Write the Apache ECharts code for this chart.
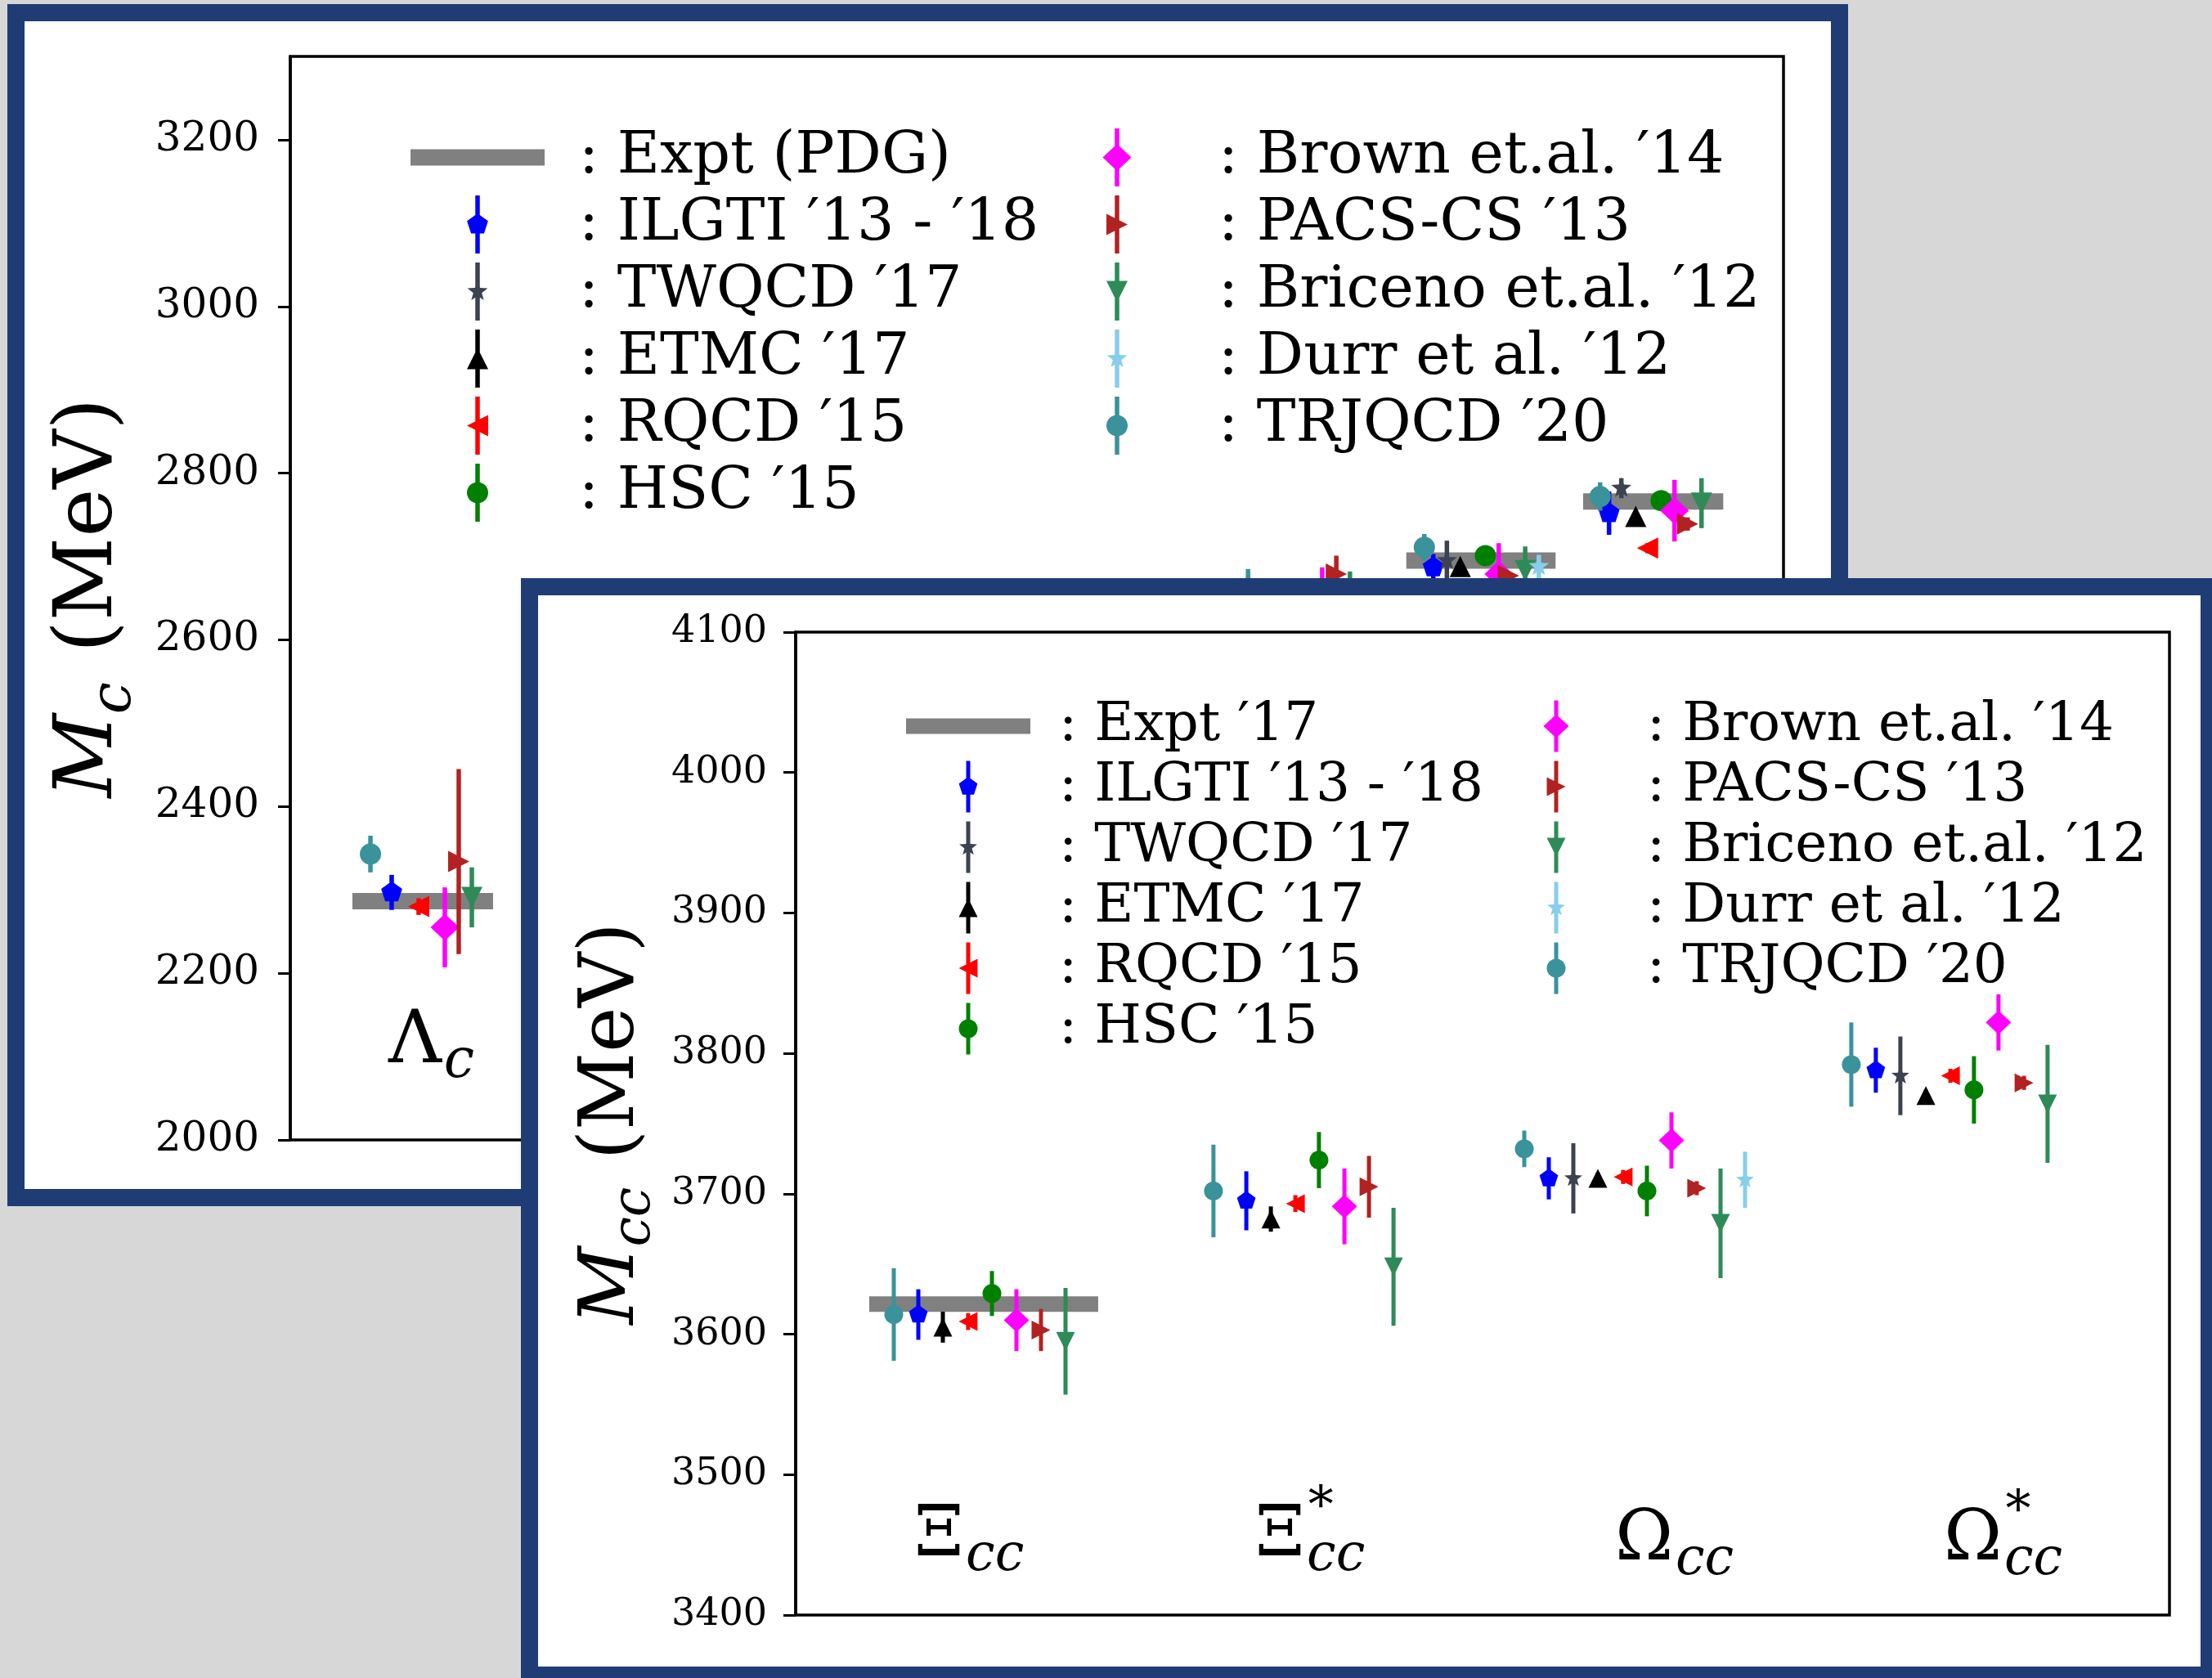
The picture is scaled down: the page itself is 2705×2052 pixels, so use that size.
<!DOCTYPE html>
<html>
<head>
<meta charset="utf-8">
<script src="https://cdn.jsdelivr.net/npm/echarts@6/dist/echarts.min.js"></script>
<style>
  html, body { margin: 0; padding: 0; width: 2705px; height: 2052px; overflow: hidden; background: #d7d7d7; }
  .panel { position: absolute; box-sizing: border-box; border: 21px solid #1f3d74; background: #fff; }
  #back { left: 9px; top: 5px; width: 2251px; height: 1470px; }
  #front { left: 637px; top: 707px; width: 2075px; height: 1352px; }
  .chart { width: 100%; height: 100%; }
</style>
</head>
<body>
<div id="back" class="panel"><div id="backChart" class="chart"></div></div>
<div id="front" class="panel"><div id="frontChart" class="chart"></div></div>
<script>
// ---------------- singly charmed baryons (upper panel) ----------------
// experimental bands: [x start, x end, mass in MeV]
const backExpt = [[2.37, 7.74, 2286.5], [42.6, 48.3, 2695.2], [49.35, 54.7, 2765.9]];
// lattice points: [x slot, mass (MeV), error (MeV)]
const backIlgti   = [[3.87, 2297, 21], [43.63, 2687, 16], [50.34, 2752, 26]];
const backTwqcd   = [[44.15, 2695, 24], [50.81, 2782, 12]];
const backEtmc    = [[44.66, 2688, 4], [51.36, 2748, 4]];
const backRqcd    = [[4.9, 2280, 10], [51.81, 2710, 6]];
const backHsc     = [[45.62, 2701, 8], [52.33, 2767, 8]];
const backBrown   = [[5.9, 2255, 48], [39.39, 2650, 37], [46.13, 2679, 37], [52.84, 2755, 37]];
const backPacs    = [[6.43, 2334, 111], [39.93, 2679, 22], [46.5, 2677, 5], [53.34, 2739, 8]];
const backBriceno = [[6.93, 2291, 36], [40.45, 2652, 30], [47.14, 2683, 29], [53.87, 2764, 30]];
const backDurr    = [[47.66, 2688, 14]];
const backTrjqcd  = [[3.06, 2343, 22], [36.56, 2662, 23], [43.29, 2711, 16], [50.0, 2772, 17]];
const backYTicks  = { min: 2000, max: 3300, step: 200 };

// ---------------- doubly charmed baryons (lower panel) ----------------
const frontExpt = [[3.0, 12.33, 3621.4]];
const frontIlgti   = [[5, 3614, 18], [18.37, 3695, 21], [30.7, 3711, 15], [44.03, 3788, 16]];
const frontTwqcd   = [[31.7, 3711, 25], [45.03, 3784, 28]];
const frontEtmc    = [[6, 3605, 11], [19.37, 3682, 9], [32.7, 3711, 4], [46.07, 3770, 4]];
const frontRqcd    = [[7.03, 3609, 6], [20.37, 3693, 6], [33.73, 3712, 5], [47.07, 3784, 5]];
const frontHsc     = [[8, 3629, 16], [21.33, 3724, 20], [34.7, 3702, 18], [48.03, 3774, 24]];
const frontBrown   = [[9, 3610, 22], [22.37, 3691, 27], [35.7, 3738, 20], [49.03, 3822, 20]];
const frontPacs    = [[10, 3603, 15], [23.37, 3705, 22], [36.73, 3704, 5], [50.07, 3779, 5]];
const frontBriceno = [[11, 3595, 38], [24.37, 3648, 42], [37.7, 3679, 39], [51.03, 3764, 42]];
const frontDurr    = [[38.7, 3710, 20]];
const frontTrjqcd  = [[4, 3614, 33], [17.03, 3702, 33], [29.7, 3732, 13], [43.03, 3792, 30]];
const frontYTicks  = { min: 3400, max: 4100, step: 100 };

// collaborations: legend name, colour, marker shape
const collaborations = [
  { name: 'ILGTI ′13 - ′18',    color: '#0000ff', marker: 'pentagon' },
  { name: 'TWQCD ′17',          color: '#3c4250', marker: 'star' },
  { name: 'ETMC ′17',           color: '#000000', marker: 'triUp' },
  { name: 'RQCD ′15',           color: '#ff0000', marker: 'triLeft' },
  { name: 'HSC ′15',            color: '#008000', marker: 'circle' },
  { name: 'Brown et.al. ′14',   color: '#ff00ff', marker: 'diamond' },
  { name: 'PACS-CS ′13',        color: '#b22222', marker: 'triRight' },
  { name: 'Briceno et.al. ′12', color: '#2e8b57', marker: 'triDown' },
  { name: 'Durr et al. ′12',    color: '#87ceeb', marker: 'star' },
  { name: 'TRJQCD ′20',         color: '#3a929b', marker: 'circle' }
];
const backSets  = [backIlgti, backTwqcd, backEtmc, backRqcd, backHsc, backBrown, backPacs, backBriceno, backDurr, backTrjqcd];
const frontSets = [frontIlgti, frontTwqcd, frontEtmc, frontRqcd, frontHsc, frontBrown, frontPacs, frontBriceno, frontDurr, frontTrjqcd];

const SERIF = 'DejaVu Serif';

// marker outlines around (0,0); every outline runs clockwise so that
// union with the error bar fills solid in legend icons
function markerPts(kind, s) {
  const r = s / 2;
  const ring = (n, R, a0) => Array.from({ length: n }, (_, k) => {
    const a = a0 + k * 2 * Math.PI / n;
    return [R * Math.cos(a), R * Math.sin(a)];
  });
  switch (kind) {
    case 'circle':   return ring(40, r, 0);
    case 'pentagon': return ring(5, r * 1.04, -Math.PI / 2);
    case 'triUp':    return [[0, -r], [r, r], [-r, r]];
    case 'triDown':  return [[-r, -r], [r, -r], [0, r]];
    case 'triLeft':  return [[-r, 0], [r, -r], [r, r]];
    case 'triRight': return [[r, 0], [-r, r], [-r, -r]];
    case 'diamond':  return [[0, -r * 1.27], [r * 1.35, 0], [0, r * 1.27], [-r * 1.35, 0]];
    case 'star': {
      const out = [];
      for (let k = 0; k < 10; k++) {
        const a = -Math.PI / 2 + k * Math.PI / 5;
        const R = k % 2 ? r * 0.42 : r * 1.0;
        out.push([R * Math.cos(a), R * Math.sin(a)]);
      }
      return out;
    }
  }
}
function markerWidth(kind, s) {
  const xs = markerPts(kind, s).map(p => p[0]);
  return Math.max(...xs) - Math.min(...xs);
}
const fmt = v => v.toFixed(2);
function polyPath(pts) {
  return 'M' + pts.map(p => fmt(p[0]) + ' ' + fmt(p[1])).join(' L') + ' Z';
}
function legendIconPath(kind, s, barH, lw) {
  const bar = [[-lw / 2, -barH / 2], [lw / 2, -barH / 2], [lw / 2, barH / 2], [-lw / 2, barH / 2]];
  return 'path://' + polyPath(bar) + ' ' + polyPath(markerPts(kind, s));
}

function errorSeries(c, data, s, lw) {
  return {
    type: 'custom', name: c.name, data: data,
    itemStyle: { color: c.color },
    encode: { x: 0, y: 1 },
    renderItem: function (params, api) {
      const x = api.value(0), y = api.value(1), e = api.value(2);
      const p = api.coord([x, y]);
      const top = api.coord([x, y + e]);
      const bot = api.coord([x, y - e]);
      const color = api.visual('color');
      return {
        type: 'group',
        children: [
          { type: 'line', shape: { x1: p[0], y1: top[1], x2: p[0], y2: bot[1] },
            style: { stroke: color, lineWidth: lw } },
          { type: 'polygon', shape: { points: markerPts(c.marker, s).map(q => [q[0] + p[0], q[1] + p[1]]) },
            style: { fill: color } }
        ]
      };
    }
  };
}
function exptSeries(name, data, h) {
  return {
    type: 'custom', name: name, data: data,
    itemStyle: { color: '#808080' },
    encode: { x: [0, 1], y: 2 },
    renderItem: function (params, api) {
      const a = api.coord([api.value(0), api.value(2)]);
      const b = api.coord([api.value(1), api.value(2)]);
      return { type: 'rect', shape: { x: a[0], y: a[1] - h / 2, width: b[0] - a[0], height: h },
               style: { fill: '#808080' } };
    }
  };
}

// math-like labels assembled from text pieces (main glyph, italic sub/superscripts)
const mctx = document.createElement('canvas').getContext('2d');
function textW(t, size, italic) {
  mctx.font = (italic ? 'italic ' : '') + size + 'px "' + SERIF + '"';
  return mctx.measureText(t).width;
}
function mathPieces(parts, startX) {
  let cx = startX;
  return parts.map(pt => {
    const el = {
      type: 'text', x: cx + (pt.dx || 0), y: (pt.dy || 0) - 0.35 * pt.fs,
      style: { text: pt.t, fontSize: pt.fs, fontFamily: SERIF, fontStyle: pt.italic ? 'italic' : 'normal',
               fill: '#000', align: 'left', verticalAlign: 'middle' }
    };
    if (!pt.stack) cx += textW(pt.t, pt.fs, pt.italic) + (pt.dx || 0);
    return el;
  });
}
function mathWidth(parts) {
  return parts.reduce((w, pt) => w + (pt.stack ? 0 : textW(pt.t, pt.fs, pt.italic) + (pt.dx || 0)), 0);
}
function mathLabel(x, baseline, parts) {
  return { type: 'group', x: x, y: baseline, children: mathPieces(parts, 0) };
}
function rotatedLabel(xBase, yCenter, parts) {
  const w = mathWidth(parts);
  return { type: 'group', x: xBase, y: yCenter, rotation: Math.PI / 2, children: mathPieces(parts, -w / 2) };
}
function baryon(sym, sub, star, fs) {
  const parts = [{ t: sym, fs: fs }];
  if (star) parts.push({ t: '*', fs: fs * 0.72, dy: -0.5 * fs, dx: fs * 0.05, stack: true });
  parts.push({ t: sub, fs: fs * 0.74, italic: true, dy: 0.18 * fs, dx: fs * 0.03 });
  return parts;
}

function buildOption(cfg) {
  const legendItems = (names, kinds) => names.map((n, i) => ({ name: n, icon: kinds[i] }));
  const exptIcon = 'path://' + polyPath([[0, 0], [cfg.iconW, 0], [cfg.iconW, cfg.exptH], [0, cfg.exptH]]);
  const icons = collaborations.map(c => legendIconPath(c.marker, cfg.ms, cfg.barH, cfg.lw));
  const names = collaborations.map(c => c.name);
  // the second column has no full-width icon, so its content box starts at the widest marker
  const widest = Math.max(...collaborations.slice(5).map(c => markerWidth(c.marker, cfg.ms)));
  const legendBase = {
    orient: 'vertical', top: cfg.legendTop, itemWidth: cfg.iconW, itemHeight: cfg.barH,
    itemGap: cfg.rowGap, selectedMode: false, formatter: n => ': ' + n,
    textStyle: { fontFamily: SERIF, fontSize: cfg.legendFs, color: '#000', padding: [0, 0, 0, cfg.textGap], lineHeight: cfg.barH - 2 }
  };
  return {
    animation: false,
    textStyle: { fontFamily: SERIF },
    grid: { left: cfg.grid[0], top: cfg.grid[1], width: cfg.grid[2], height: cfg.grid[3],
            show: true, borderColor: '#000', borderWidth: 3.5, backgroundColor: 'transparent' },
    xAxis: { type: 'value', min: 0, max: cfg.xMax, show: false },
    yAxis: {
      type: 'value', min: cfg.ticks.min, max: cfg.ticks.max, interval: cfg.ticks.step,
      axisLine: { show: true, lineStyle: { color: '#000', width: 3.5 } },
      axisTick: { show: true, length: 15, lineStyle: { color: '#000', width: 3 } },
      axisLabel: { fontFamily: SERIF, fontSize: cfg.tickFs, color: '#000', margin: cfg.labelMargin,
                   showMaxLabel: cfg.showMax, formatter: v => String(v) },
      splitLine: { show: false }
    },
    legend: [
      Object.assign({}, legendBase, { left: cfg.legendLeft[0],
        data: [{ name: cfg.exptName, icon: exptIcon }].concat(legendItems(names.slice(0, 5), icons.slice(0, 5))) }),
      Object.assign({}, legendBase, { left: cfg.legendLeft[1] + (cfg.iconW - widest) / 2,
        data: legendItems(names.slice(5), icons.slice(5)) })
    ],
    graphic: cfg.labels,
    series: [exptSeries(cfg.exptName, cfg.expt, cfg.exptH)].concat(
      collaborations.map((c, i) => errorSeries(c, cfg.sets[i], cfg.ms, cfg.lw)))
  };
}

// upper panel
const backFs = 90;
const backChart = echarts.init(document.getElementById('backChart'));
backChart.setOption(buildOption({
  grid: [325, 43, 1826, 1325], xMax: 57, ticks: backYTicks, showMax: false,
  expt: backExpt, exptName: 'Expt (PDG)', sets: backSets,
  ms: 26, lw: 5.5, exptH: 20, iconW: 164, barH: 71, rowGap: 10,
  legendTop: 125.5, legendLeft: [467, 1249], legendFs: 71.5, textGap: 37,
  tickFs: 50, labelMargin: 38,
  labels: [
    mathLabel(445, 1281, baryon('Λ', 'c', false, backFs)),
    rotatedLabel(115, 705, [{ t: 'M', fs: 100, italic: true }, { t: 'c', fs: 70, italic: true, dy: 20 },
                            { t: ' (MeV)', fs: 100, dx: 4 }])
  ]
}));

// lower panel
const frontFs = 86;
const frontChart = echarts.init(document.getElementById('frontChart'));
frontChart.setOption(buildOption({
  grid: [315, 45, 1680, 1202], xMax: 56, ticks: frontYTicks, showMax: true,
  expt: frontExpt, exptName: 'Expt ′17', sets: frontSets,
  ms: 23, lw: 5, exptH: 19, iconW: 152, barH: 63, rowGap: 8,
  legendTop: 122, legendLeft: [445, 1164], legendFs: 66, textGap: 30,
  tickFs: 46, labelMargin: 35,
  labels: [
    mathLabel(460, 1182, baryon('Ξ', 'cc', false, frontFs)),
    mathLabel(877, 1182, baryon('Ξ', 'cc', true, frontFs)),
    mathLabel(1317, 1187, baryon('Ω', 'cc', false, frontFs)),
    mathLabel(1719, 1187, baryon('Ω', 'cc', true, frontFs)),
    rotatedLabel(124, 646, [{ t: 'M', fs: 93, italic: true }, { t: 'cc', fs: 65, italic: true, dy: 18 },
                            { t: ' (MeV)', fs: 93, dx: 4 }])
  ]
}));
</script>
</body>
</html>
